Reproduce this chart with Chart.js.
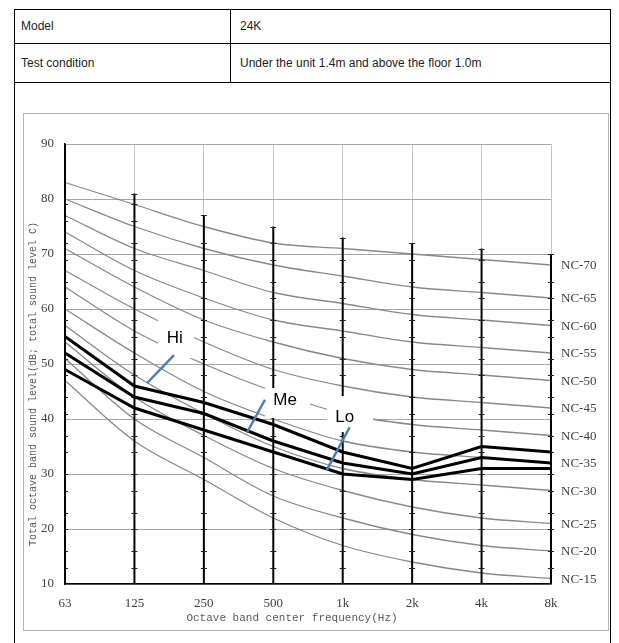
<!DOCTYPE html>
<html><head><meta charset="utf-8">
<script src="https://cdn.jsdelivr.net/npm/chart.js@4.4.0/dist/chart.umd.min.js"></script>
<style>
html,body{margin:0;padding:0;background:#fff;width:619px;height:643px;overflow:hidden;font-family:"Liberation Sans",Arial,sans-serif;}
.b{position:absolute;background:#000;}
.t{position:absolute;font-size:12px;color:#222;line-height:14px;white-space:nowrap;}
#frame{position:absolute;left:23px;top:113px;width:584px;height:516px;border:1px solid #b4b4b4;}
canvas{display:block;}
</style></head><body>
<div class="b" style="left:14px;top:9px;width:597px;height:1px"></div>
<div class="b" style="left:14px;top:43px;width:597px;height:1px"></div>
<div class="b" style="left:14px;top:82px;width:597px;height:1px"></div>
<div class="b" style="left:14px;top:9px;width:1px;height:640px"></div>
<div class="b" style="left:610px;top:9px;width:1px;height:640px"></div>
<div class="b" style="left:230px;top:9px;width:1px;height:74px"></div>
<div class="t" style="left:21px;top:19px">Model</div>
<div class="t" style="left:240px;top:19px">24K</div>
<div class="t" style="left:21px;top:56px">Test condition</div>
<div class="t" style="left:240px;top:56px">Under the unit 1.4m and above the floor 1.0m</div>
<div id="frame"><canvas id="c" width="584" height="516" style="width:584px;height:516px"></canvas></div>
<script>
// ---- data ----
const categories = ['63','125','250','500','1k','2k','4k','8k'];
const yTicks = [10,20,30,40,50,60,70,80,90];
const hiValues = [55,46,43,39,34,31,35,34];
const meValues = [52,44,41,36,32,30,33,32];
const loValues = [49,42,38,34,30,29,31,31];
const NC15 = [47,36,29,22,17,14,12,11];
const NC20 = [51,40,33,26,22,19,17,16];
const NC25 = [54,44,37,31,27,24,22,21];
const NC30 = [57,48,41,35,31,29,28,27];
const NC35 = [60,52,45,40,36,34,33,32];
const NC40 = [64,56,50,45,41,39,38,37];
const NC45 = [67,60,54,49,46,44,43,42];
const NC50 = [71,64,58,54,51,49,48,47];
const NC55 = [74,67,62,58,56,54,53,52];
const NC60 = [77,71,67,63,61,59,58,57];
const NC65 = [80,75,71,68,66,64,63,62];
const NC70 = [83,79,75,72,71,70,69,68];
const ncNames = ['NC-15','NC-20','NC-25','NC-30','NC-35','NC-40','NC-45','NC-50','NC-55','NC-60','NC-65','NC-70'];
const ncSeries = [NC15,NC20,NC25,NC30,NC35,NC40,NC45,NC50,NC55,NC60,NC65,NC70];
const columnTops = [90,81,77,75,73,72,71,70];
const scaleTickLevels = [13,16,20,23,27,30,34,37,41,44,48,51,55,58,62,65,69,72,76,79];
const seriesNames = ['Hi','Me','Lo'];
const labelAt = [[1.58,54.9],[3.17,43.5],[4.03,40.4]];
const leaderFrom = [[1.18,46.5],[2.62,37.5],[3.77,30.7]];
const leaderTo = [[1.57,51.6],[2.88,43.5],[4.10,38.5]];
const boxAt = [[1.60,54.7],[3.205,42.9],[4.105,40.9]];
const xTitle = 'Octave band center frequency(Hz)';
const yTitle = 'Total octave band sound level(dB; total sound level C)';

// ---- styles ----
const boxSize = [[36,40],[45,30],[46,36]];
const serif = '"Liberation Serif","Times New Roman",serif';
const mono = '"Liberation Mono","Courier New",monospace';

const datasets = [];
[hiValues, meValues, loValues].forEach((v,i)=>{
  datasets.push({label:seriesNames[i], data:v, borderColor:'#000', borderWidth:3, pointRadius:0, tension:0, order:0, fill:false});
});
ncSeries.forEach((v,i)=>{
  datasets.push({label:ncNames[i], data:v, borderColor:'#888888', borderWidth:1.3, pointRadius:0, cubicInterpolationMode:'monotone', order:1, fill:false});
});

const decor = {
  id:'decor',
  afterDatasetDraw(chart,args){
    if(args.index!==3) return;
    const ctx=chart.ctx, xs=chart.scales.x, ys=chart.scales.y;
    ctx.save();
    columnTops.forEach((top,i)=>{
      const px=xs.getPixelForValue(i);
      const yb=ys.getPixelForValue(10), yt=ys.getPixelForValue(top);
      ctx.strokeStyle='#000';
      ctx.lineWidth=2;
      ctx.beginPath(); ctx.moveTo(px,yb); ctx.lineTo(px,yt); ctx.stroke();
      ctx.lineWidth=1;
      ctx.strokeStyle='#222';
      const levels = scaleTickLevels.filter(v=>v<top-1);
      if(i>0) levels.push(top);
      levels.forEach(v=>{
        const py=Math.round(ys.getPixelForValue(v))+0.5;
        ctx.beginPath(); ctx.moveTo(i===0?px:px-3,py); ctx.lineTo(px+3,py); ctx.stroke();
      });
    });
    ctx.restore();
  },
  afterDraw(chart){
    const ctx=chart.ctx, xs=chart.scales.x, ys=chart.scales.y, ca=chart.chartArea;
    ctx.save();
    boxAt.forEach((b,i)=>{
      const cx=xs.getPixelForValue(b[0]), cy=ys.getPixelForValue(b[1]);
      ctx.fillStyle='#fff';
      ctx.fillRect(cx-boxSize[i][0]/2, cy-boxSize[i][1]/2, boxSize[i][0], boxSize[i][1]);
    });
    ctx.strokeStyle='#4a7ebb'; ctx.lineWidth=2.5; ctx.lineCap='butt';
    leaderFrom.forEach((f,i)=>{
      ctx.beginPath();
      ctx.moveTo(xs.getPixelForValue(f[0]), ys.getPixelForValue(f[1]));
      ctx.lineTo(xs.getPixelForValue(leaderTo[i][0]), ys.getPixelForValue(leaderTo[i][1]));
      ctx.stroke();
    });
    ctx.fillStyle='#000'; ctx.font='17px "Liberation Sans", Arial, sans-serif';
    ctx.textAlign='center'; ctx.textBaseline='middle';
    labelAt.forEach((p,i)=>{
      ctx.fillText(seriesNames[i], xs.getPixelForValue(p[0]), ys.getPixelForValue(p[1])+1);
    });
    ctx.fillStyle='#404040'; ctx.font='13px '+serif; ctx.textAlign='left';
    ncSeries.forEach((v,i)=>{
      ctx.fillText(ncNames[i], ca.right+10, ys.getPixelForValue(v[v.length-1])+1);
    });
    ctx.fillStyle='#595959';
    ctx.font='11px '+mono; ctx.textAlign='center';
    ctx.fillText(xTitle, (ca.left+ca.right)/2-16, ca.bottom+34);
    ctx.save();
    ctx.translate(9, (ca.top+ca.bottom)/2+20);
    ctx.rotate(-Math.PI/2);
    ctx.font='10px '+mono;
    ctx.fillText(yTitle, 0, 0);
    ctx.restore();
    ctx.restore();
  }
};

new Chart(document.getElementById('c'), {
  type:'line',
  data:{labels:categories, datasets:datasets},
  options:{
    responsive:false, animation:false, devicePixelRatio:1,
    layout:{padding:{top:30,right:57,left:0,bottom:0}},
    plugins:{legend:{display:false}, tooltip:{enabled:false}, title:{display:false}},
    scales:{
      x:{type:'category', offset:false,
        grid:{color:'#c4c4c4', lineWidth:1, drawTicks:false},
        border:{color:'#000', width:1.5},
        ticks:{color:'#404040', font:{family:serif, size:13}, padding:12, maxRotation:0, autoSkip:false},
        afterFit(s){ s.height=46; }
      },
      y:{type:'linear', min:10, max:90,
        afterBuildTicks(s){ s.ticks = yTicks.map(v=>({value:v})); },
        grid:{color:'#a6a6a6', lineWidth:1, drawTicks:false},
        border:{color:'#000', width:1.5},
        ticks:{color:'#404040', font:{family:serif, size:13}, padding:11},
        afterFit(s){ s.width=41; }
      }
    }
  },
  plugins:[decor]
});
</script>
</body></html>
